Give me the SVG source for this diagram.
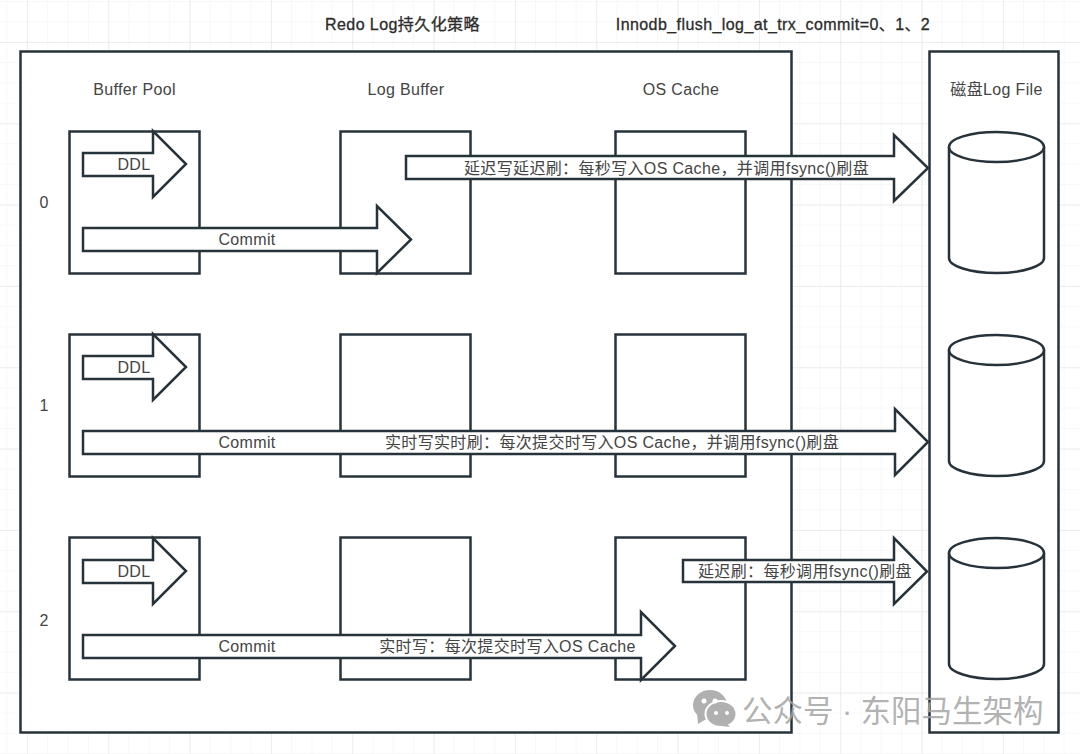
<svg xmlns="http://www.w3.org/2000/svg" width="1080" height="754" viewBox="0 0 1080 754">
  <style>
    .box { fill: #fff; stroke: #27333b; stroke-width: 2.500; }
    .thin { fill: #fff; stroke: #27333b; stroke-width: 2.500; stroke-linejoin: miter; }
    text { font-family: "Liberation Sans", "Noto Sans CJK SC", sans-serif; font-size: 16px; fill: #444; text-anchor: middle; letter-spacing: 0.35px; }
    .title { fill: #2b2b2b; stroke: #2b2b2b; stroke-width: 0.3; letter-spacing: 0.42px; }
    .mark { fill: #a4a4a4; fill-opacity: 0.85; font-size: 30.500px; text-anchor: start; letter-spacing: 0; }
    .icon { fill: #b0b0b0; }
  </style>
  <defs>
    <pattern id="minor" x="6.500" y="1" width="20.33" height="20.33" patternUnits="userSpaceOnUse">
      <path d="M0 0V20.33M0 0H20.33" fill="none" stroke="#f2f2f2" stroke-width="1"/>
    </pattern>
    <pattern id="major" x="27" y="42" width="81.33" height="81.33" patternUnits="userSpaceOnUse">
      <path d="M0 0V81.33M0 0H81.33" fill="none" stroke="#e9e9e9" stroke-width="1.500"/>
    </pattern>
    <path id="ddl" d="M83 153H153V131L186 164L153 197V176H83Z"/>
    <path id="cyl-body" d="M949 147V258C949 266 970 273 996.500 273C1023 273 1044 266 1044 258V147"/>
  </defs>

  <g id="background">
    <rect width="1080" height="754" fill="#fff"/>
    <rect width="1080" height="754" fill="url(#minor)"/>
    <rect width="1080" height="754" fill="url(#major)"/>
  </g>

  <g id="headings">
    <text class="title" x="402.500" y="30">Redo Log持久化策略</text>
    <text class="title" x="773" y="30">Innodb_flush_log_at_trx_commit=0、1、2</text>
  </g>

  <g id="memory-panel">
    <rect class="box" x="20.500" y="51.500" width="771" height="681"/>
    <text x="134.500" y="95">Buffer Pool</text>
    <text x="406" y="95">Log Buffer</text>
    <text x="681" y="95">OS Cache</text>
    <text x="44" y="208">0</text>
    <text x="44" y="411">1</text>
    <text x="44" y="626">2</text>
  </g>

  <g id="disk-panel">
    <rect class="box" x="929.500" y="51.500" width="129" height="681"/>
    <text x="996.500" y="95">磁盘Log File</text>
  </g>

  <g id="buffer-pool-0"><rect class="box" x="69.500" y="131.500" width="130" height="142"/></g>
  <g id="log-buffer-0"><rect class="box" x="340.500" y="131.500" width="130" height="142"/></g>
  <g id="os-cache-0"><rect class="box" x="615.500" y="131.500" width="130" height="142"/></g>
  <g id="buffer-pool-1"><rect class="box" x="69.500" y="334.500" width="130" height="142"/></g>
  <g id="log-buffer-1"><rect class="box" x="340.500" y="334.500" width="130" height="142"/></g>
  <g id="os-cache-1"><rect class="box" x="615.500" y="334.500" width="130" height="142"/></g>
  <g id="buffer-pool-2"><rect class="box" x="69.500" y="537.500" width="130" height="142"/></g>
  <g id="log-buffer-2"><rect class="box" x="340.500" y="537.500" width="130" height="142"/></g>
  <g id="os-cache-2"><rect class="box" x="615.500" y="537.500" width="130" height="142"/></g>

  <g id="log-file-0">
    <use href="#cyl-body" fill="#fff" stroke="#27333b" stroke-width="2.500"/>
    <ellipse class="box" cx="996.500" cy="147" rx="47.500" ry="15"/>
  </g>
  <g id="log-file-1" transform="translate(0 203)">
    <use href="#cyl-body" fill="#fff" stroke="#27333b" stroke-width="2.500"/>
    <ellipse class="box" cx="996.500" cy="147" rx="47.500" ry="15"/>
  </g>
  <g id="log-file-2" transform="translate(0 406)">
    <use href="#cyl-body" fill="#fff" stroke="#27333b" stroke-width="2.500"/>
    <ellipse class="box" cx="996.500" cy="147" rx="47.500" ry="15"/>
  </g>

  <g id="connectors">
    <path class="thin" d="M83 228H377V206L411 239.500L377 273V251H83Z"/>
    <path class="thin" d="M406 156H894V135L928 168L894 201V179H406Z"/>
    <use class="thin" href="#ddl"/>
    <use class="thin" href="#ddl" y="203"/>
    <use class="thin" href="#ddl" y="407"/>
    <path class="thin" d="M83 431H895V409L928 442L895 475V454H83Z"/>
    <path class="thin" d="M83 635H641V612L675 646L641 680V658H83Z"/>
    <path class="thin" d="M683 560H894V538L927 571.500L894 604V582H683Z"/>
    <text x="134" y="170">DDL</text>
    <text x="134" y="373">DDL</text>
    <text x="134" y="577">DDL</text>
    <text x="247" y="245">Commit</text>
    <text x="247" y="448">Commit</text>
    <text x="247" y="652">Commit</text>
    <text x="666.500" y="173.500">延迟写延迟刷：每秒写入OS Cache，并调用fsync()刷盘</text>
    <text x="612" y="448">实时写实时刷：每次提交时写入OS Cache，并调用fsync()刷盘</text>
    <text x="507.500" y="652">实时写：每次提交时写入OS Cache</text>
    <text x="805" y="577">延迟刷：每秒调用fsync()刷盘</text>
  </g>

  <g id="watermark">
    <ellipse class="icon" cx="710" cy="705" rx="17" ry="15"/>
    <path class="icon" d="M697 713L698 724L708 718Z"/>
    <ellipse class="icon" cx="721" cy="714" rx="15.500" ry="13" stroke="#fff" stroke-width="2"/>
    <path class="icon" d="M727 724L730 727L721 726Z"/>
    <circle cx="704" cy="701" r="2.500" fill="#fff"/>
    <circle cx="715" cy="701" r="2.500" fill="#fff"/>
    <circle cx="716" cy="713" r="2" fill="#fff"/>
    <circle cx="727" cy="713" r="2" fill="#fff"/>
    <text class="mark" x="742" y="722">公众号 · 东阳马生架构</text>
  </g>
</svg>
